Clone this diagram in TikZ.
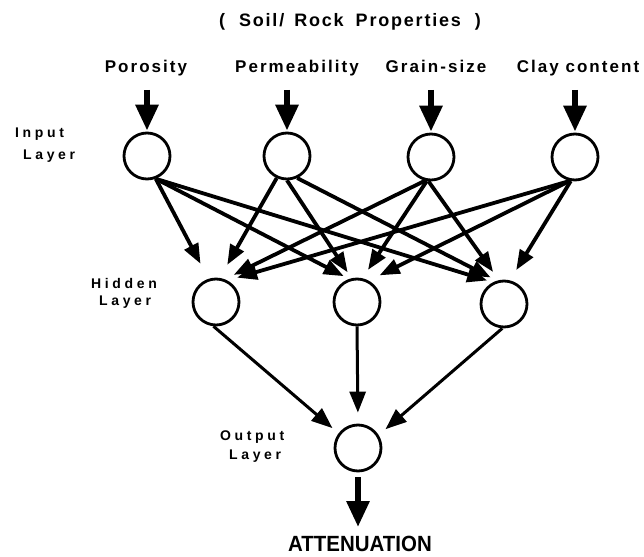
\documentclass[tikz,border=0pt]{standalone}
\usepackage{fontspec}
\usepackage{graphicx}
\setmainfont{Liberation Sans}
\newfontfamily\toplblfont[LetterSpace=12]{Liberation Sans}
\newfontfamily\layerfont[LetterSpace=26]{Liberation Sans}
\newfontfamily\titlefont[LetterSpace=10]{Liberation Sans}
\usetikzlibrary{arrows.meta}
\tikzset{
  neuron/.style={circle, draw, line width=2.8pt, minimum size=46pt, inner sep=0pt},
  conn/.style={line width=3.8pt, -{Triangle[length=20pt,width=15pt]}},
  outconn/.style={line width=3pt, -{Triangle[length=21pt,width=16pt]}},
  bigarrow/.style={line width=6pt, -{Triangle[length=26pt,width=22pt]}},
  toplbl/.style={font=\toplblfont\bfseries\fontsize{17}{20}\selectfont, inner sep=0pt, anchor=base},
  layerlbl/.style={font=\layerfont\bfseries\fontsize{14}{16}\selectfont, inner sep=0pt, anchor=base west},
}
\begin{document}
\begin{tikzpicture}[x=1pt,y=-1pt]
\useasboundingbox (0,0) rectangle (644,556);
% title
\node[font=\titlefont\bfseries\fontsize{18}{21}\selectfont, anchor=base, inner sep=0pt] (title) at (350,27)
  {(\hspace{14pt}Soil/\hspace{10pt}Rock\hspace{12pt}Properties\hspace{14pt})};
% input labels
\node[toplbl] (l1) at (146,73) {Porosity};
\node[toplbl] (l2) at (297,73) {Permeability};
\node[toplbl] (l3) at (436,73) {Grain-size};
\node[toplbl] (l4) at (578,73) {Clay content};
% neurons
\node[neuron] (i1) at (147,156) {};
\node[neuron] (i2) at (287,156) {};
\node[neuron] (i3) at (431,157) {};
\node[neuron] (i4) at (575,157) {};
\node[neuron] (h1) at (216,302) {};
\node[neuron] (h2) at (357,302) {};
\node[neuron] (h3) at (504,304) {};
\node[neuron] (o) at (358,448) {};
% layer labels
\node[layerlbl] (inl1) at (15,138) {Input};
\node[layerlbl] (inl2) at (23,159) {Layer};
\node[layerlbl] (hl1) at (91,288) {Hidden};
\node[layerlbl] (hl2) at (99,305) {Layer};
\node[layerlbl] (ol1) at (220,440) {Output};
\node[layerlbl] (ol2) at (229,459) {Layer};
% input arrows
\coordinate (a1) at (147,90);
\coordinate (a2) at (287,90);
\coordinate (a3) at (431,90);
\coordinate (a4) at (575,90);
\draw[bigarrow, shorten >=1pt] (a1) -- (i1.north);
\draw[bigarrow, shorten >=1pt] (a2) -- (i2.north);
\draw[bigarrow, shorten >=1pt] (a3) -- (i3.north);
\draw[bigarrow, shorten >=1pt] (a4) -- (i4.north);
% input -> hidden
\draw[conn, shorten >=17pt] (i1.-69) -- (h1.108);
\draw[conn, shorten >=6pt] (i1.-69) -- (h2.109);
\draw[conn, shorten >=6pt] (i1.-69) -- (h3.117);
\draw[conn, shorten >=15pt] (i2.-115) -- (h1.81);
\draw[conn, shorten >=7pt] (i2.-90) -- (h2.103);
\draw[conn, shorten >=7pt] (i2.-65) -- (h3.107);
\draw[conn, shorten >=10pt] (i3.-104) -- (h1.69);
\draw[conn, shorten >=10pt] (i3.-100) -- (h2.77);
\draw[conn, shorten >=10pt] (i3.-96) -- (h3.102);
\draw[conn, shorten >=10pt] (i4.-102) -- (h1.62);
\draw[conn, shorten >=12pt] (i4.-102) -- (h2.61);
\draw[conn, shorten >=12pt] (i4.-100) -- (h3.76);
% hidden -> output
\draw[outconn, shorten >=8pt] (h1.-96) -- (o.143);
\draw[outconn, shorten >=11pt] (h2.south) -- (o.north);
\draw[outconn, shorten >=9pt] (h3.-94) -- (o.32);
% output arrow
\coordinate (oa) at (358,527);
\draw[bigarrow, shorten <=5pt] (o.south) -- (oa);
\node[anchor=base, inner sep=0pt, font=\bfseries\fontsize{22}{26}\selectfont] (att) at (360,551)
  {\scalebox{0.93}[1]{ATTENUATION}};
\end{tikzpicture}
\end{document}
